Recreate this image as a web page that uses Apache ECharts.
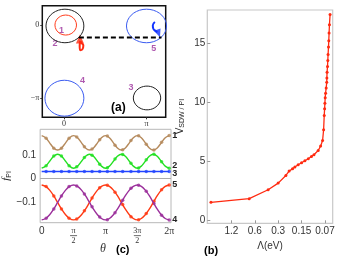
<!DOCTYPE html>
<html><head><meta charset="utf-8">
<script src="https://cdn.jsdelivr.net/npm/echarts@6/dist/echarts.min.js"></script>
<style>html,body{margin:0;padding:0;background:#fff}#c{width:339px;height:261px}</style>
</head><body><div id="c"></div>
<script>
const PI = Math.PI;
// ---------- panel (a): contours (centre, radii in radians)
const contourNames = ['1', '2', '3', '4', '5'];
const contourCx = [0.07, 0.04, 3.16, 0.02, 3.14];
const contourCy = [0.00, -0.04, -3.13, -3.14, -0.04];
const contourRx = [0.41, 0.72, 0.52, 0.74, 0.76];
const contourRy = [0.43, 0.72, 0.51, 0.77, 0.72];
const labelAx = [-0.09, -0.34, 2.55, 0.71, 3.42];
const labelAy = [-0.24, -0.78, -2.67, -2.39, -1.00];
const redPathX = [0.62, 0.60, 0.62, 0.70, 0.74, 0.68, 0.63];
const redPathY = [-0.68, -0.90, -1.08, -1.05, -0.88, -0.78, -0.70];
const redTip = [0.61, -0.60];
const bluePathX = [3.46, 3.38, 3.40, 3.47, 3.55];
const bluePathY = [0.13, -0.02, -0.16, -0.24, -0.30];
const blueTip = [3.60, -0.36];
const dashX = [0.57, 3.71];
const dashY = [-0.53, -0.53];
const aTickX = [0, PI], aTickXLabels = ['0', 'π'];
const aTickY = [-PI, 0], aTickYLabels = ['−π', '0'];

// ---------- panel (c): f_PI vs theta (theta in units of pi)
const thetaLine = [0,0.0625,0.125,0.1875,0.25,0.3125,0.375,0.4375,0.5,0.5625,0.625,0.6875,0.75,0.8125,0.875,0.9375,1,1.0625,1.125,1.1875,1.25,1.3125,1.375,1.4375,1.5,1.5625,1.625,1.6875,1.75,1.8125,1.875,1.9375,2];
const f1Line = [0.185,0.176,0.154,0.132,0.123,0.132,0.154,0.176,0.185,0.176,0.154,0.132,0.123,0.132,0.154,0.176,0.185,0.176,0.154,0.132,0.123,0.132,0.154,0.176,0.185,0.176,0.154,0.132,0.123,0.132,0.154,0.176,0.185];
const f2Line = [0.045,0.054,0.075,0.096,0.105,0.096,0.075,0.054,0.045,0.054,0.075,0.096,0.105,0.096,0.075,0.054,0.045,0.054,0.075,0.096,0.105,0.096,0.075,0.054,0.045,0.054,0.075,0.096,0.105,0.096,0.075,0.054,0.045];
const f3Line = [0.031,0.031,0.031,0.031,0.031,0.031,0.031,0.031,0.031,0.031,0.031,0.031,0.031,0.031,0.031,0.031,0.031,0.031,0.031,0.031,0.031,0.031,0.031,0.031,0.031,0.031,0.031,0.031,0.031,0.031,0.031,0.031,0.031];
const f5Line = [-0.027,-0.033,-0.049,-0.073,-0.102,-0.131,-0.155,-0.171,-0.177,-0.171,-0.155,-0.131,-0.102,-0.073,-0.049,-0.033,-0.027,-0.033,-0.049,-0.073,-0.102,-0.131,-0.155,-0.171,-0.177,-0.171,-0.155,-0.131,-0.102,-0.073,-0.049,-0.033,-0.027];
const f4Line = [-0.177,-0.171,-0.155,-0.131,-0.102,-0.073,-0.049,-0.033,-0.027,-0.033,-0.049,-0.073,-0.102,-0.131,-0.155,-0.171,-0.177,-0.171,-0.155,-0.131,-0.102,-0.073,-0.049,-0.033,-0.027,-0.033,-0.049,-0.073,-0.102,-0.131,-0.155,-0.171,-0.177];
const thetaMark = [0.07,0.19,0.31,0.43,0.55,0.67,0.79,0.91,1.03,1.15,1.27,1.40,1.52,1.64,1.76,1.88,2.00];
const f1Mark = [0.174,0.131,0.131,0.174,0.179,0.137,0.127,0.167,0.183,0.144,0.124,0.164,0.184,0.148,0.123,0.156,0.185];
const f2Mark = [0.056,0.097,0.097,0.056,0.051,0.091,0.101,0.062,0.047,0.084,0.104,0.066,0.046,0.081,0.105,0.073,0.045];
const f3Mark = [0.031,0.031,0.031,0.031,0.031,0.031,0.031,0.031,0.031,0.031,0.031,0.031,0.031,0.031,0.031,0.031,0.031];
const f5Mark = [-0.034,-0.074,-0.130,-0.170,-0.173,-0.138,-0.083,-0.039,-0.028,-0.058,-0.111,-0.163,-0.176,-0.150,-0.097,-0.047,-0.027];
const f4Mark = [-0.170,-0.130,-0.074,-0.034,-0.031,-0.066,-0.121,-0.165,-0.176,-0.146,-0.093,-0.041,-0.028,-0.054,-0.107,-0.157,-0.177];
const cTickX = [0, 0.5, 1, 1.5, 2];
const cTickXLabels = ['0', 'π/2', 'π', '3π/2', '2π'];
const cTickY = [-0.1, 0, 0.1];
const cTickYLabels = ['−0.1', '0', '0.1'];

// ---------- panel (b): V_SDW/PI vs Lambda (eV)
const lambdaEV = [2.20,0.708,0.404,0.300,0.239,0.217,0.196,0.183,0.166,0.150,0.136,0.123,0.112,0.104,0.0917,0.0854,0.0805,0.0781,0.0767,0.0758,0.0752,0.0745,0.0737,0.0724,0.0712,0.0709,0.0705,0.0696,0.0690,0.0684,0.0676,0.0670,0.0664,0.0657,0.0645];
const vSDW = [1.53,1.84,2.60,3.16,3.81,4.18,4.38,4.52,4.72,4.89,5.06,5.23,5.42,5.57,5.93,6.30,6.78,7.69,8.90,9.47,9.94,10.40,10.79,11.24,11.72,12.09,12.57,13.05,13.56,14.07,14.70,15.25,15.90,16.60,17.46];
const bTickLambda = [1.2, 0.6, 0.3, 0.15, 0.075];
const bTickLabels = ['1.2', '0.6', '0.3', '0.15', '0.07'];
const bTickY = [0, 5, 10, 15];

// ---------- styles
const contourColors = ['#ff3a1a', '#222222', '#222222', '#3a5bf0', '#3a5bf0'];
const fColors = {f1: '#b58a5c', f2: '#22e022', f3: '#2244ff', f5: '#ff3a14', f4: '#9b2f9b'};
const purple = '#9b2f9b';

const lamPos = l => Math.log2(1.2 / l);
const bTickPos = bTickLambda.map(lamPos);

function ellipse(i) {
  const pts = [];
  for (let k = 0; k <= 72; k++) {
    const t = k / 72 * 2 * PI;
    pts.push([contourCx[i] + contourRx[i] * Math.cos(t), contourCy[i] + contourRy[i] * Math.sin(t)]);
  }
  return pts;
}
function pickLabel(vals, labels, v) {
  for (let i = 0; i < vals.length; i++) if (Math.abs(vals[i] - v) < 1e-6) return labels[i];
  return '';
}
const zip = (xs, ys, sx) => xs.map((x, i) => [x * (sx || 1), ys[i]]);

const series = [];
// (a)
contourNames.forEach((n, i) => {
  series.push({type: 'line', xAxisIndex: 0, yAxisIndex: 0, data: ellipse(i), showSymbol: false,
    lineStyle: {color: contourColors[i], width: 1}, silent: true});
});
series.push({type: 'line', xAxisIndex: 0, yAxisIndex: 0, data: zip(dashX, dashY), showSymbol: false,
  lineStyle: {color: '#000', width: 2, type: [5, 3]}});
series.push({type: 'line', xAxisIndex: 0, yAxisIndex: 0, data: zip(redPathX, redPathY), showSymbol: false, smooth: 0.5,
  lineStyle: {color: '#ff2a10', width: 2}});
series.push({type: 'line', xAxisIndex: 0, yAxisIndex: 0, data: zip(bluePathX, bluePathY), showSymbol: false, smooth: 0.5,
  lineStyle: {color: '#1133ff', width: 2}});
series.push({type: 'scatter', xAxisIndex: 0, yAxisIndex: 0, data: [redTip], symbol: 'triangle', symbolSize: [8, 9],
  itemStyle: {color: '#ff2a10'}});
series.push({type: 'scatter', xAxisIndex: 0, yAxisIndex: 0, data: [blueTip], symbol: 'triangle', symbolSize: [7, 8], symbolRotate: 200,
  itemStyle: {color: '#1133ff'}});
series.push({type: 'scatter', xAxisIndex: 0, yAxisIndex: 0, symbolSize: 0,
  data: contourNames.map((n, i) => ({name: n, value: [labelAx[i], labelAy[i]]})),
  label: {show: true, position: 'inside', formatter: p => p.name, color: purple, fontSize: 9, fontWeight: 'bold', fontFamily: 'Liberation Sans'}});
// (c)
const cDefs = [
  ['1', f1Line, f1Mark, fColors.f1, [0, 0]],
  ['2', f2Line, f2Mark, fColors.f2, [0, -3]],
  ['3', f3Line, f3Mark, fColors.f3, [0, 2]],
  ['5', f5Line, f5Mark, fColors.f5, [0, 0]],
  ['4', f4Line, f4Mark, fColors.f4, [0, 0]]
];
cDefs.forEach(([n, ln, mk, col, off], i) => {
  const s = {type: 'line', name: n, xAxisIndex: 1, yAxisIndex: 1, data: zip(thetaLine, ln), showSymbol: false, smooth: 0.3,
    lineStyle: {color: col, width: 1.4},
    endLabel: {show: true, formatter: n, color: '#222', fontSize: 9, fontWeight: 'bold', fontFamily: 'Liberation Sans', distance: 3, offset: off}};
  if (i === 0) {
    s.markLine = {silent: true, symbol: 'none', label: {show: false}, lineStyle: {color: '#aaaaaa', width: 1, type: 'solid'}, data: [{yAxis: 0}]};
  }
  series.push(s);
  series.push({type: 'scatter', xAxisIndex: 1, yAxisIndex: 1, data: zip(thetaMark, mk), symbol: 'circle', symbolSize: 3.5,
    itemStyle: {color: col}});
});
// (b)
series.push({type: 'line', xAxisIndex: 2, yAxisIndex: 2, data: lambdaEV.map((l, i) => [lamPos(l), vSDW[i]]),
  symbol: 'circle', symbolSize: 3, showSymbol: true, lineStyle: {color: '#ff2a10', width: 1.3}, itemStyle: {color: '#ff2a10'}});

const txt = '#333';
const noLine = {show: false, onZero: false};
const opt = {
  animation: false,
  grid: [
    {left: 42.3, top: 5.7, width: 123.4, height: 111.6, show: true, borderColor: '#111', borderWidth: 1.5, backgroundColor: 'transparent'},
    {left: 38.3, top: 129.3, width: 132.7, height: 93.4, show: true, borderColor: '#b8b8b8', borderWidth: 1, backgroundColor: 'transparent'},
    {left: 207.3, top: 10, width: 125.4, height: 213.3, show: true, borderColor: '#c8c8c8', borderWidth: 1.2, backgroundColor: 'transparent'}
  ],
  xAxis: [
    {type: 'value', gridIndex: 0, min: -0.82, max: 3.87, axisLine: noLine, splitLine: {show: false},
      axisTick: {show: true, customValues: aTickX, length: 2, lineStyle: {color: '#333'}},
      axisLabel: {customValues: aTickX, formatter: v => pickLabel(aTickX, aTickXLabels, v), fontSize: 8, color: txt, fontFamily: 'Liberation Serif', margin: 3}},
    {type: 'value', gridIndex: 1, min: -0.024, max: 2.028, axisLine: noLine, splitLine: {show: false},
      axisTick: {show: false},
      axisLabel: {customValues: cTickX, margin: 4, color: txt, fontSize: 10, fontFamily: 'Liberation Sans',
        formatter: v => {
          const s = pickLabel(cTickX, cTickXLabels, v);
          if (s.indexOf('/') >= 0) { const p = s.split('/'); return '{n|' + p[0] + '}\n{l| }\n{d|' + p[1] + '}'; }
          if (s.indexOf('π') >= 0) return '{p|' + s + '}';
          return s;
        },
        rich: {
          n: {fontSize: 8, lineHeight: 8, fontFamily: 'Liberation Serif', color: txt},
          l: {width: 7, height: 0.8, lineHeight: 2, fontSize: 1, backgroundColor: '#444'},
          d: {fontSize: 8, lineHeight: 8, fontFamily: 'Liberation Serif', color: txt},
          p: {fontSize: 10, fontFamily: 'Liberation Serif', color: txt}
        }}},
    {type: 'value', gridIndex: 2, min: -1.03, max: 4.33, axisLine: noLine, splitLine: {show: false},
      name: 'Λ(eV)', nameLocation: 'middle', nameGap: 13,
      nameTextStyle: {fontSize: 10, color: txt, fontFamily: 'Liberation Sans'},
      axisTick: {show: true, inside: true, length: 3, customValues: bTickPos, lineStyle: {color: '#999'}},
      axisLabel: {customValues: bTickPos, formatter: v => pickLabel(bTickPos, bTickLabels, v), fontSize: 10, color: txt, fontFamily: 'Liberation Sans', margin: 3}}
  ],
  yAxis: [
    {type: 'value', gridIndex: 0, min: -3.96, max: 0.83, axisLine: noLine, splitLine: {show: false},
      axisTick: {show: true, customValues: aTickY, length: 2, lineStyle: {color: '#333'}},
      axisLabel: {customValues: aTickY, formatter: v => pickLabel(aTickY, aTickYLabels, v), fontSize: 8, color: txt, fontFamily: 'Liberation Serif', margin: 3}},
    {type: 'value', gridIndex: 1, min: -0.189, max: 0.212, axisLine: noLine, splitLine: {show: false},
      name: '{f|f}{s|PI}', nameLocation: 'middle', nameGap: 26, nameRotate: 90,
      nameTextStyle: {rich: {f: {fontSize: 11, fontStyle: 'italic', fontFamily: 'Liberation Serif', color: '#222'}, s: {fontSize: 7, fontFamily: 'Liberation Sans', color: '#222', padding: [5, 0, 0, 0]}}},
      axisTick: {show: false},
      axisLabel: {customValues: cTickY, formatter: v => pickLabel(cTickY, cTickYLabels, v), fontSize: 10, color: txt, fontFamily: 'Liberation Sans', margin: 4}},
    {type: 'value', gridIndex: 2, min: -0.25, max: 17.85, axisLine: noLine, splitLine: {show: false},
      name: '{v|V}{s|SDW / PI}', nameLocation: 'middle', nameGap: 22, nameRotate: 90,
      nameTextStyle: {rich: {v: {fontSize: 10, fontFamily: 'Liberation Sans', color: '#222'}, s: {fontSize: 7, fontFamily: 'Liberation Sans', color: '#222', padding: [4, 0, 0, 0]}}},
      axisTick: {show: true, inside: true, length: 3, customValues: bTickY, lineStyle: {color: '#999'}},
      axisLabel: {customValues: bTickY, fontSize: 10, color: txt, fontFamily: 'Liberation Sans', margin: 2}}
  ],
  graphic: [
    {type: 'text', left: 111, top: 102, style: {text: '(a)', font: 'bold 12px "Liberation Sans"', fill: '#000'}},
    {type: 'text', left: 100, top: 243, style: {text: 'θ', font: 'italic 12px "Liberation Serif"', fill: '#333'}},
    {type: 'text', left: 116, top: 244, style: {text: '(c)', font: 'bold 11px "Liberation Sans"', fill: '#000'}},
    {type: 'text', left: 204, top: 245, style: {text: '(b)', font: 'bold 11px "Liberation Sans"', fill: '#000'}}
  ],
  series: series
};
const chart = echarts.init(document.getElementById('c'), null, {renderer: 'canvas'});
chart.setOption(opt);
</script></body></html>
